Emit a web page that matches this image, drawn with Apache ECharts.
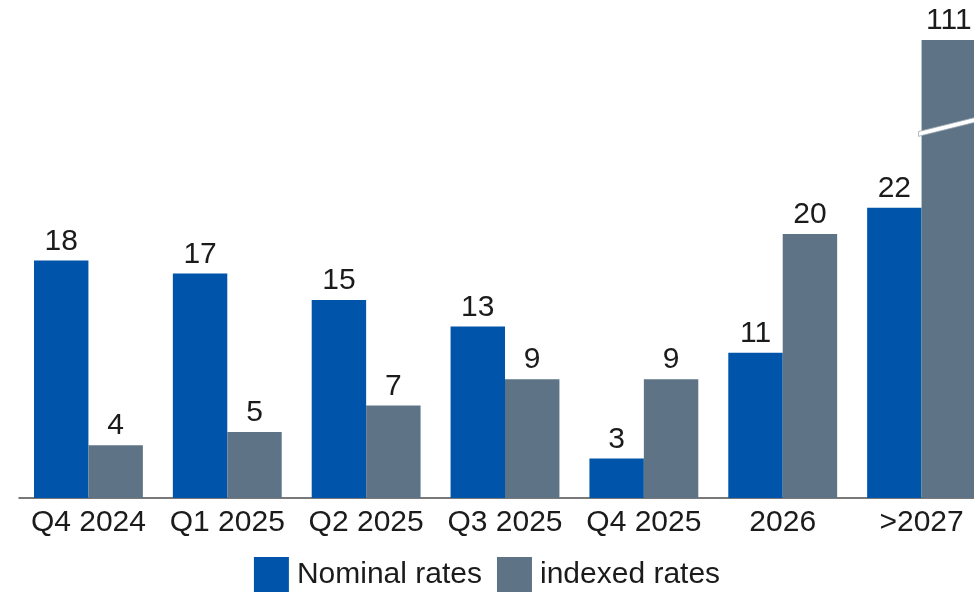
<!DOCTYPE html>
<html>
<head>
<meta charset="utf-8">
<script src="https://cdn.jsdelivr.net/npm/echarts@6/dist/echarts.min.js"></script>
<style>
  html, body { margin: 0; padding: 0; background: #fff; }
  #chart { width: 974px; height: 594px; }
</style>
</head>
<body>
<div id="chart"></div>
<script>
// Maturity buckets and amounts per rate type
const categories = ['Q4 2024', 'Q1 2025', 'Q2 2025', 'Q3 2025', 'Q4 2025', '2026', '>2027'];
const nominalRates = [18, 17, 15, 13, 3, 11, 22];
const indexedRates = [4, 5, 7, 9, 9, 20, 111];
const seriesNames = ['Nominal rates', 'indexed rates'];

// Value range skipped by the broken axis (tallest bar only)
const axisBreak = { start: 28, end: 104.6, gap: 0.3 };

const FONT = '"Liberation Sans", Arial, sans-serif';
const TEXT = '#1b1b1b';
const BLUE = '#0055aa';
const GREY = '#5e7486';

const chart = echarts.init(document.getElementById('chart'), null, { renderer: 'canvas' });

const labelStyle = {
  show: true,
  position: 'top',
  distance: 4,
  color: TEXT,
  fontFamily: FONT,
  fontSize: 30
};

chart.setOption({
  animation: false,
  backgroundColor: '#fff',
  grid: { left: 19, width: 972, top: 40, bottom: 96, outerBoundsMode: 'none', containLabel: false },
  legend: {
    data: seriesNames,
    bottom: 2,
    left: 'center',
    padding: 0,
    icon: 'rect',
    itemWidth: 35,
    itemHeight: 35,
    itemGap: 15,
    textStyle: { color: TEXT, fontFamily: FONT, fontSize: 30, padding: [0, 0, 0, 3] }
  },
  xAxis: {
    type: 'category',
    data: categories,
    axisLine: { lineStyle: { color: '#4d4d4d', width: 1.5 } },
    axisTick: { show: false },
    axisLabel: { color: TEXT, fontFamily: FONT, fontSize: 30, margin: 10, interval: 0 }
  },
  yAxis: {
    type: 'value',
    min: 0,
    max: 111,
    splitLine: { show: false },
    axisLine: { show: false },
    axisTick: { show: false },
    axisLabel: { show: false },
    breaks: [axisBreak],
    breakArea: { show: false, expandOnClick: false }
  },
  series: [
    {
      name: seriesNames[0],
      type: 'bar',
      data: nominalRates,
      itemStyle: { color: BLUE },
      barGap: '0%',
      barCategoryGap: '21.6%',
      label: labelStyle
    },
    {
      name: seriesNames[1],
      type: 'bar',
      data: indexedRates,
      itemStyle: { color: GREY },
      barGap: '0%',
      barCategoryGap: '21.6%',
      label: labelStyle
    }
  ]
});

// Diagonal cut across the indexed bar that crosses the axis break
function drawBreakSlash() {
  const idx = indexedRates.indexOf(Math.max(...indexedRates));
  const c0 = chart.convertToPixel({ xAxisIndex: 0, yAxisIndex: 0 }, [idx - 1, axisBreak.start]);
  const c1 = chart.convertToPixel({ xAxisIndex: 0, yAxisIndex: 0 }, [idx, axisBreak.start]);
  const band = c1[0] - c0[0];
  const barW = band * (1 - 0.216) / 2;
  const x0 = c1[0] - 3;
  const x1 = c1[0] + barW + 3;
  const yMid = c1[1] - 2;
  const tilt = 7.5;
  const half = 2.4;
  chart.setOption({
    graphic: [{
      type: 'polygon',
      z: 100,
      shape: {
        points: [
          [x0, yMid + tilt - half], [x1, yMid - tilt - half],
          [x1, yMid - tilt + half], [x0, yMid + tilt + half]
        ]
      },
      style: { fill: '#ffffff', stroke: '#9aa6b0', lineWidth: 0.8 }
    }]
  });
}
drawBreakSlash();
</script>
</body>
</html>
